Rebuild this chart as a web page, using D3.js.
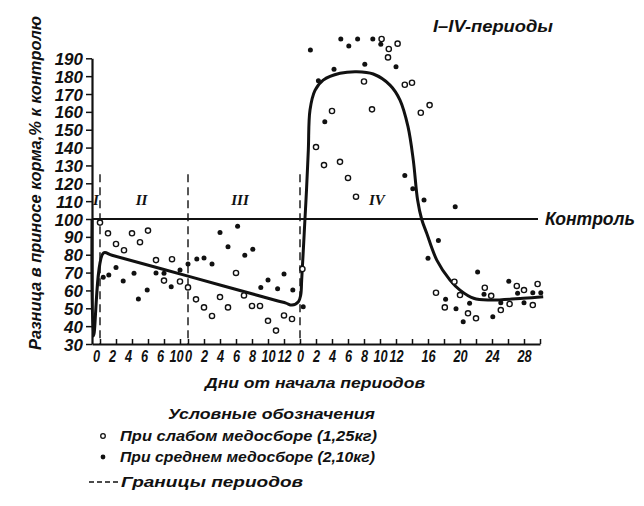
<!DOCTYPE html>
<html><head><meta charset="utf-8">
<script src="https://cdn.jsdelivr.net/npm/d3@7"></script>
<style>
body{margin:0;background:#fff}
svg text{font-family:"Liberation Sans",Arial,sans-serif;font-style:italic;font-weight:bold;fill:#111}
</style></head><body>
<svg id="c" width="644" height="506"></svg>
<script>
// ---- data ----
const periodNames = ["I", "II", "III", "IV"];
const periodLengths = [1, 11, 14, 30];          // days shown per period
const yTicks = [30,40,50,60,70,80,90,100,110,120,130,140,150,160,170,180,190];
const tickDaysII = [0,2,4,6,8,10];
const tickLabelsII = ["0","2","4","6","6","10"];
const tickDaysIII = [0,2,4,6,8,10,12];
const tickLabelsIII = ["0","2","4","6","8","10","12"];
const tickDaysIV = [0,2,4,6,8,10,12,14,16,18,20,22,24,26,28,30];
const tickLabelsIV = ["0","2","4","6","8","10","12","","16","","20","","24","","28",""];
const controlValue = 100;
const boundaryTop = 125;

// [period index, day from period start, value]
const weakPoints = [
 [1,0,98],[1,1,92],[1,2,86],[1,3,82.5],[1,4,92],[1,5,87],[1,6,93.5],[1,7,77],[1,8,65.5],[1,9,77.5],[1,10,65],
 [2,0,61.7],[2,1,55],[2,2,50.5],[2,3,45.7],[2,4,56.3],[2,5,50.5],[2,6,69.8],[2,7,57.2],[2,8,51.3],[2,9,51.3],[2,10,43],[2,11,37.5],[2,12,46],[2,13,44],
 [3,0.3,72],[3,2,140.3],[3,3,130.2],[3,4,160.5],[3,5,132],[3,6,123],[3,7,112.5],[3,8,177],[3,9,161.4],[3,10.2,200.8],[3,11,190.5],[3,11.1,195.2],[3,12.2,198.2],[3,13.1,175.2],[3,14,176.3],[3,15.1,159.5],[3,16.2,163.8],
 [3,17,58.7],[3,18.1,50.5],[3,19.3,64.9],[3,20,57.4],[3,21,47.2],[3,22,44.4],[3,23.1,61.5],[3,23.9,57],[3,25.1,49],[3,26.2,52.4],[3,27.1,62.5],[3,28,60.2],[3,29.1,51.8],[3,29.7,63.6]
];
const mediumPoints = [
 [1,0.4,67.4],[1,1.1,68.6],[1,2,72.9],[1,2.9,65.3],[1,4.25,69.6],[1,4.8,55.2],[1,5.9,60.2],[1,7,69.8],[1,8,69.6],[1,8.9,62.1],[1,10,71.4],
 [2,0,74.8],[2,1.1,77.6],[2,2,78.2],[2,3,74.8],[2,4,92.4],[2,5,84.5],[2,6.2,95.9],[2,7.1,79.7],[2,8.1,83],[2,9.1,61.7],[2,10,65.8],[2,11.2,61],[2,12,69.2],[2,13.1,60.2],
 [3,0.4,50.9],[3,1.3,194.6],[3,2.3,177.4],[3,3.1,154.5],[3,4.25,183.8],[3,5.1,200.8],[3,6.1,196.9],[3,7.2,200.8],[3,8.1,186.6],[3,9.1,200.8],[3,10.1,197.8],[3,12,185.3],[3,13.1,124.3],[3,14.1,117],[3,15.5,110.6],
 [3,16,78],[3,17.3,87.9],[3,18.2,55],[3,19.4,106.9],[3,19.5,49.8],[3,20.4,42.5],[3,21.2,52.8],[3,22.2,70.3],[3,23,57.8],[3,24.1,45.3],[3,25.1,53.1],[3,26.1,65.1],[3,27.2,58.4],[3,28,53.1],[3,29.1,58.7],[3,30.1,58.7]
];
const trendCurve = [
 [0,0,100],[0,0.2,34.5],[1,0.44,81],[1,1.5,79.7],[2,0,68],[2,11.25,54.1],[2,12.25,52.9],[2,13,51.8],[2,13.8,53.7],
 [3,0.09,57.4],[3,0.21,65.8],[3,0.62,100],[3,0.81,116],[3,1.04,138.6],[3,1.25,161],[3,1.875,172],[3,2.9,177.8],[3,5,181.6],
 [3,7.1,182.5],[3,9.16,181.2],[3,11.25,175],[3,12.5,166.6],[3,13.5,151.7],[3,14.16,133],[3,14.7,110.6],[3,15.2,100],
 [3,15.84,92],[3,17.1,77],[3,18.75,65.8],[3,20,60.2],[3,21.7,55.6],[3,23.75,54.6],[3,27.9,55.6],[3,30.4,56.5]
];
const yTitle = "Разница в приносе корма,% к контролю";
const xTitle = "Дни от начала периодов";
const topNote = "I–IV-периоды";
const controlLabel = "Контроль";
const legendTitle = "Условные обозначения";
const legendWeak = "При слабом медосборе (1,25кг)";
const legendMedium = "При среднем медосборе (2,10кг)";
const legendBounds = "Границы периодов";

// ---- layout ----
const periodStart = periodLengths.map((d,i)=>d3.sum(periodLengths.slice(0,i)));
const totalDays = d3.sum(periodLengths);
const pos = (p,d)=>periodStart[p]+d;
const x = d3.scaleLinear().domain([0,totalDays]).range([92,540]);
const y = d3.scaleLinear().domain([30,190]).range([344,58.3]);
const svg = d3.select("#c");

// control line
svg.append("line").attr("x1",x(0)).attr("x2",x(totalDays)-2)
  .attr("y1",y(controlValue)).attr("y2",y(controlValue))
  .attr("stroke","#111").attr("stroke-width",2);
svg.append("text").attr("x",545).attr("y",y(controlValue)+6).attr("font-size",18)
  .attr("textLength",90).attr("lengthAdjust","spacingAndGlyphs").text(controlLabel);

// period boundaries
svg.selectAll("line.bd").data(periodStart.slice(1)).join("line").attr("class","bd")
  .attr("x1",d=>x(d)).attr("x2",d=>x(d)).attr("y1",y(boundaryTop)).attr("y2",y(30))
  .attr("stroke","#111").attr("stroke-width",1.4).attr("stroke-dasharray","8,5");

// y axis
const yAxis = svg.append("g").attr("transform",`translate(${x(0)},0)`)
  .call(d3.axisLeft(y).tickValues(yTicks).tickSize(6).tickSizeOuter(0).tickPadding(3));
yAxis.attr("font-family",null);
yAxis.select(".domain").attr("stroke","#111").attr("stroke-width",2.2);
yAxis.selectAll(".tick line").attr("stroke","#111").attr("stroke-width",1.5);
yAxis.selectAll(".tick text").attr("font-size",17).attr("fill","#111").attr("dy","0.36em");

// x axis
const labelShift = [0,-4,0,0];
const xt = [];
tickDaysII.forEach((d,i)=>xt.push({p:pos(1,d),l:tickLabelsII[i],s:labelShift[1]}));
tickDaysIII.forEach((d,i)=>xt.push({p:pos(2,d),l:tickLabelsIII[i],s:labelShift[2]}));
tickDaysIV.forEach((d,i)=>xt.push({p:pos(3,d),l:tickLabelsIV[i],s:labelShift[3]}));
const xAxis = svg.append("g").attr("transform",`translate(0,${y(30)})`)
  .call(d3.axisBottom(x).tickValues(xt.map(d=>d.p)).tickFormat((d,i)=>xt[i].l)
    .tickSize(-5).tickSizeOuter(0).tickPadding(0));
xAxis.attr("font-family",null);
xAxis.select(".domain").attr("stroke","#111").attr("stroke-width",2.2);
xAxis.selectAll(".tick line").attr("stroke","#111").attr("stroke-width",1.5);
xAxis.selectAll(".tick text").attr("font-size",17).attr("fill","#111")
  .attr("y",18).attr("dy",0).attr("x",(d,i)=>xt[i].s/0.75)
  .attr("transform","scale(0.75,1)");

// trend curve
const line = d3.line().x(d=>x(pos(d[0],d[1]))).y(d=>y(d[2])).curve(d3.curveCatmullRom.alpha(0.5));
svg.append("path").datum(trendCurve).attr("d",line).attr("fill","none")
  .attr("stroke","#111").attr("stroke-width",3).attr("stroke-linejoin","round");

// points
svg.selectAll("circle.w").data(weakPoints).join("circle").attr("class","w")
  .attr("cx",d=>x(pos(d[0],d[1]))).attr("cy",d=>y(d[2])).attr("r",2.6)
  .attr("fill","#fff").attr("stroke","#111").attr("stroke-width",1.4);
svg.selectAll("circle.m").data(mediumPoints).join("circle").attr("class","m")
  .attr("cx",d=>x(pos(d[0],d[1]))).attr("cy",d=>y(d[2])).attr("r",2.5).attr("fill","#111");

// period labels
const periodLabelDays = [[0,0.5],[1,5.2],[2,6.5],[3,9.6]];
svg.selectAll("text.pl").data(periodNames).join("text").attr("class","pl")
  .attr("x",(d,i)=>x(pos(periodLabelDays[i][0],periodLabelDays[i][1])))
  .attr("y",y(108)).attr("text-anchor","middle").attr("font-size",15)
  .style("font-family","'Liberation Serif',serif").text(d=>d);

// titles
svg.append("text").attr("transform","translate(41,183) rotate(-90)").attr("text-anchor","middle")
  .attr("font-size",17).attr("textLength",334).attr("lengthAdjust","spacingAndGlyphs").text(yTitle);
svg.append("text").attr("x",433).attr("y",32).attr("font-size",16)
  .attr("textLength",120).attr("lengthAdjust","spacingAndGlyphs").text(topNote);
svg.append("text").attr("x",205).attr("y",388).attr("font-size",15)
  .attr("textLength",220).attr("lengthAdjust","spacingAndGlyphs").text(xTitle);

// legend
svg.append("text").attr("x",168).attr("y",419).attr("font-size",15)
  .attr("textLength",207).attr("lengthAdjust","spacingAndGlyphs").text(legendTitle);
svg.append("circle").attr("cx",103).attr("cy",436).attr("r",2.3).attr("fill","#fff").attr("stroke","#111").attr("stroke-width",1.3);
svg.append("text").attr("x",120).attr("y",441).attr("font-size",15)
  .attr("textLength",257).attr("lengthAdjust","spacingAndGlyphs").text(legendWeak);
svg.append("circle").attr("cx",103).attr("cy",457).attr("r",2.4).attr("fill","#111");
svg.append("text").attr("x",120).attr("y",462).attr("font-size",15)
  .attr("textLength",255).attr("lengthAdjust","spacingAndGlyphs").text(legendMedium);
svg.append("line").attr("x1",89).attr("x2",119).attr("y1",482).attr("y2",482)
  .attr("stroke","#111").attr("stroke-width",1.4).attr("stroke-dasharray","5,3");
svg.append("text").attr("x",121).attr("y",487).attr("font-size",15)
  .attr("textLength",182).attr("lengthAdjust","spacingAndGlyphs").text(legendBounds);
</script></body></html>
